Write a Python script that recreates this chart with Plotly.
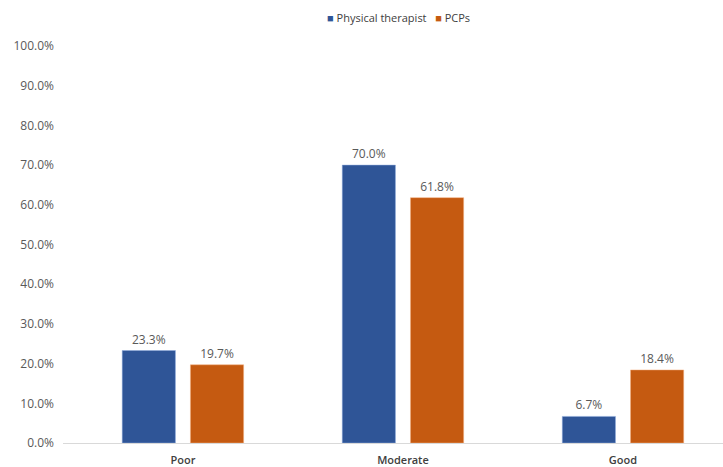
import plotly.graph_objects as go

categories = ["Poor", "Moderate", "Good"]
physical_therapist = [23.3, 70.0, 6.7]
pcps = [19.7, 61.8, 18.4]
y_ticks = [0, 10, 20, 30, 40, 50, 60, 70, 80, 90, 100]
series_names = ["Physical therapist", "PCPs"]
series_colors = ["#2F5597", "#C55A11"]

fig = go.Figure()
for name, vals, col, edge in zip(series_names, [physical_therapist, pcps], series_colors, ["#8FAADC", "#F4B183"]):
    fig.add_trace(go.Bar(
        name=name, x=categories, y=vals, showlegend=False,
        marker=dict(color=col, line=dict(color=edge, width=0.5)),
        texttemplate="%{y:.1f}%", textposition="outside",
        textfont=dict(color="#595959", size=12), cliponaxis=False))

legend_text = "&nbsp;&nbsp;&nbsp;".join(
    f"<span style='color:{c}'>■</span> {n}" for n, c in zip(series_names, series_colors))
fig.add_annotation(text=legend_text, xref="paper", yref="paper",
                   x=0.508, y=1.073, xanchor="center", yanchor="middle", showarrow=False,
                   font=dict(size=11, color="#404040"))

fig.update_layout(
    width=723, height=467,
    margin=dict(l=63, r=0, t=46, b=24),
    paper_bgcolor="white", plot_bgcolor="white",
    font=dict(family="Open Sans, Liberation Sans, sans-serif", color="#595959", size=12),
    barmode="group", bargap=0.38, bargroupgap=0.22,
    showlegend=False,
    xaxis=dict(range=[-0.545, 2.4545], showgrid=False, showline=True, linecolor="#D9D9D9",
               linewidth=1, ticks="", ticklabelstandoff=7, automargin=False,
               tickfont=dict(size=11, color="#404040", family="Open Sans SemiBold, Open Sans, sans-serif"),
               fixedrange=True),
    yaxis=dict(range=[0, 100], tickvals=y_ticks, ticktext=[f"{v:.1f}%" for v in y_ticks],
               showgrid=False, zeroline=False, showline=False, ticks="", ticklabelstandoff=8,
               automargin=False, tickfont=dict(size=12, color="#595959")),
)
fig.write_html("out.html")
